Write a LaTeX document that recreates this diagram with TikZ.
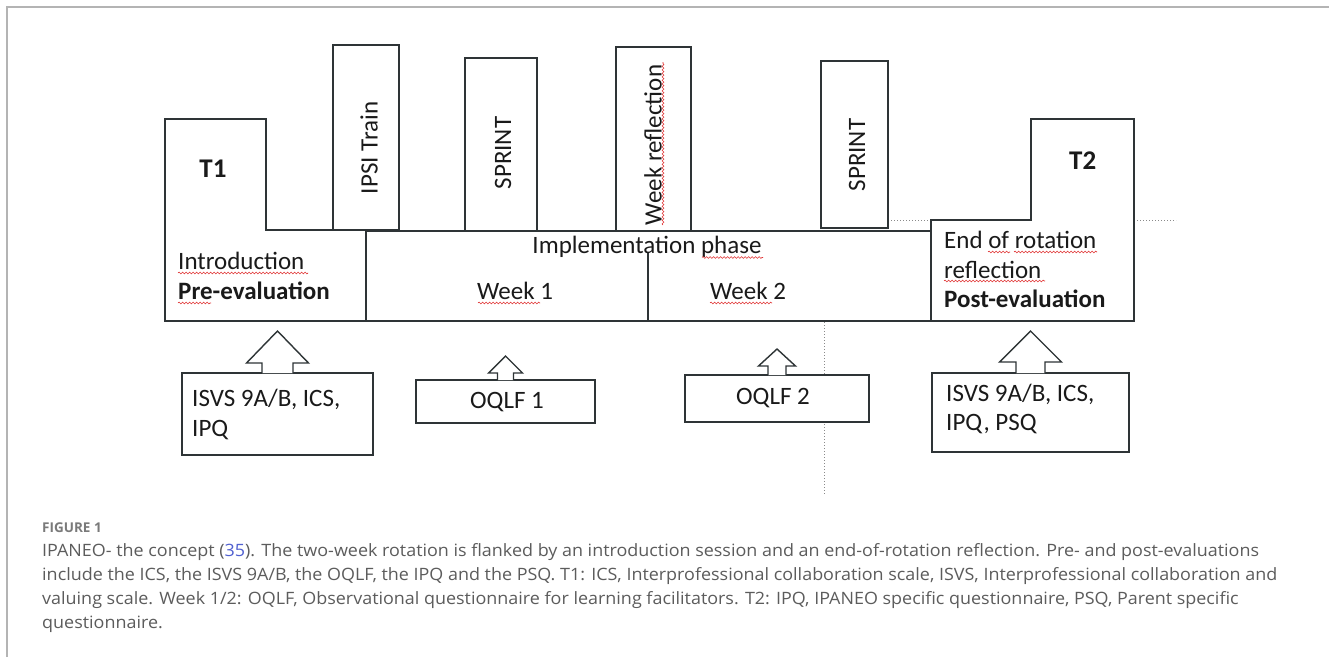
\documentclass[tikz,border=0pt]{standalone}
\usepackage{fontspec}
\setmainfont{Carlito}
\newfontfamily\capfont[FakeStretch=1.055]{Open Sans}
\newfontfamily\figfont{Open Sans}
\usetikzlibrary{calc,decorations.pathmorphing}
\definecolor{linec}{HTML}{2E3436}
\definecolor{txtc}{HTML}{1A1A1A}
\definecolor{capc}{HTML}{5C5C5C}
\definecolor{figc}{HTML}{7A7A7A}
\definecolor{refc}{HTML}{5060D0}
\definecolor{framec}{HTML}{B4B4B4}
\definecolor{dotc}{HTML}{8A8A8A}
\definecolor{wavec}{HTML}{E03030}
\newcommand\blockarrow[5]{%
  \draw[ln, fill=white] ($(#1.north)+(-#2,0)$) -- ($(#1.north)+(-#2,-#3)$)
    -- ($(#1.north)+(-#4,-#3)$) -- ($(#1.north)+(0,-#5)$)
    -- ($(#1.north)+(#4,-#3)$) -- ($(#1.north)+(#2,-#3)$) -- ($(#1.north)+(#2,0)$);}
\begin{document}
\begin{tikzpicture}[x=1pt,y=-1pt,
  ln/.style={draw=linec, line width=1.4pt, line join=miter},
  boxn/.style={ln, fill=white, inner sep=0pt, outer sep=0pt},
  txt/.style={text=txtc, inner sep=0pt, font=\fontsize{25}{30}\selectfont},
  btxt/.style={txt, font=\fontsize{25}{30}\selectfont\bfseries},
  ttxt/.style={txt, font=\fontsize{27}{30}\selectfont\bfseries},
  vtxt/.style={txt, rotate=90},
  captxt/.style={text=capc, inner sep=0pt, font=\capfont\fontsize{17}{24}\selectfont},
  figl/.style={text=figc, inner sep=0pt, font=\figfont\fontsize{13.5}{16}\selectfont\bfseries},
  dotl/.style={draw=dotc, line width=1pt, dotted},
  wavy/.style={draw=wavec, line width=0.6pt, decorate, decoration={snake, segment length=3.5pt, amplitude=0.9pt}}
]
\useasboundingbox (0,0) rectangle (1329,657);
\fill[white] (0,0) rectangle (1329,657);
% frame
\draw[draw=framec, line width=1.2pt] (7,657) -- (7,7) -- (1329,7);

% dotted guides
\draw[dotl] (888,220) -- (931,220);
\draw[dotl] (1131,220) -- (1176,220);
\coordinate (vtop) at (824,322);
\coordinate (vbot) at (824,495);
\draw[dotl] (vtop) -- (vbot);

% T1 shape
\draw[ln, fill=white] (165,119) -- (266,119) -- (266,230) -- (366,230) -- (366,321) -- (165,321) -- cycle;
% T2 shape
\draw[ln, fill=white] (931,220) -- (1031,220) -- (1031,119) -- (1134,119) -- (1134,321) -- (931,321) -- cycle;
% implementation phase box
\node[boxn, minimum width=565pt, minimum height=90pt] (impl) at (648.5,276) {};
\coordinate (divtop) at (648,252);
\coordinate (divbot) at (648,321);
\draw[ln] (divtop) -- (divbot);

% tall boxes
\node[boxn, minimum width=66pt, minimum height=185pt] (ipsi) at (366,137.5) {};
\node[boxn, minimum width=72pt, minimum height=173pt] (sprinta) at (501,144.5) {};
\node[boxn, minimum width=75pt, minimum height=184pt] (weekref) at (653.5,139) {};
\node[boxn, minimum width=67pt, minimum height=167pt] (sprintb) at (854.5,144.5) {};
\node[vtxt] (ipsil) at (369,148) {IPSI Train};
\node[vtxt] (sprintal) at (503,153) {SPRINT};
\node[vtxt] (weekrefl) at (653,145) {Week reflection};
\node[vtxt] (sprintbl) at (857,155) {SPRINT};

% texts in the main row
\node[ttxt, anchor=base] (t1) at (213,177) {T1};
\node[txt, anchor=base west] (intro) at (178,269) {Introduction};
\node[btxt, anchor=base west] (pre) at (178,299) {Pre-evaluation};
\node[txt, anchor=base] (impll) at (647,253) {Implementation phase};
\node[txt, anchor=base] (wk1) at (515,299) {Week 1};
\node[txt, anchor=base] (wk2) at (748,299) {Week 2};
\node[ttxt, anchor=base west] (t2) at (1069,169) {T2};
\node[txt, anchor=base west] (endrot) at (944,248) {End of rotation};
\node[txt, anchor=base west] (refl) at (944,278) {reflection};
\node[btxt, anchor=base west] (post) at (944,307) {Post-evaluation};

% bottom boxes
\node[boxn, minimum width=191pt, minimum height=82pt] (b1) at (277.5,414) {};
\node[boxn, minimum width=179pt, minimum height=43pt] (o1) at (505.5,401.5) {};
\node[boxn, minimum width=184pt, minimum height=47pt] (o2) at (777,398.5) {};
\node[boxn, minimum width=197pt, minimum height=79pt] (b2) at (1030.5,412.5) {};
\blockarrow{b1}{15.5}{10}{31}{42}
\blockarrow{o1}{8}{7}{17}{24}
\blockarrow{o2}{9}{9}{18.5}{26}
\blockarrow{b2}{14.5}{11}{31}{42}
\node[txt, anchor=base west] (b1a) at (192,406) {ISVS 9A/B, ICS,};
\node[txt, anchor=base west] (b1b) at (192,436) {IPQ};
\node[txt, anchor=base] (o1l) at (507,408) {OQLF 1};
\node[txt, anchor=base] (o2l) at (773,404) {OQLF 2};
\node[txt, anchor=base west] (b2a) at (946,401) {ISVS 9A/B, ICS,};
\node[txt, anchor=base west] (b2b) at (946,430) {IPQ, PSQ};

% spell-check underlines
\draw[wavy] (178,273) -- (308,273);
\draw[wavy] (178,303) -- (211,303);
\draw[wavy] (702,257.5) -- (763,257.5);
\draw[wavy] (478,303) -- (540,303);
\draw[wavy] (710,303) -- (772,303);
\draw[wavy] (663,225) -- (663,62);
\draw[wavy] (988,252) -- (1010,252);
\draw[wavy] (1014,252) -- (1097,252);
\draw[wavy] (944,281) -- (1045,281);

% caption
\node[figl, anchor=base west] (fig) at (42,532) {FIGURE 1};
\node[captxt, anchor=base west] (c1) at (42,556) {IPANEO- the concept (\textcolor{refc}{35}). The two-week rotation is flanked by an introduction session and an end-of-rotation reflection. Pre- and post-evaluations};
\node[captxt, anchor=base west] (c2) at (42,580) {include the ICS, the ISVS 9A/B, the OQLF, the IPQ and the PSQ. T1: ICS, Interprofessional collaboration scale, ISVS, Interprofessional collaboration and};
\node[captxt, anchor=base west] (c3) at (42,604) {valuing scale. Week 1/2: OQLF, Observational questionnaire for learning facilitators. T2: IPQ, IPANEO specific questionnaire, PSQ, Parent specific};
\node[captxt, anchor=base west] (c4) at (42,628) {questionnaire.};
\end{tikzpicture}
\end{document}
